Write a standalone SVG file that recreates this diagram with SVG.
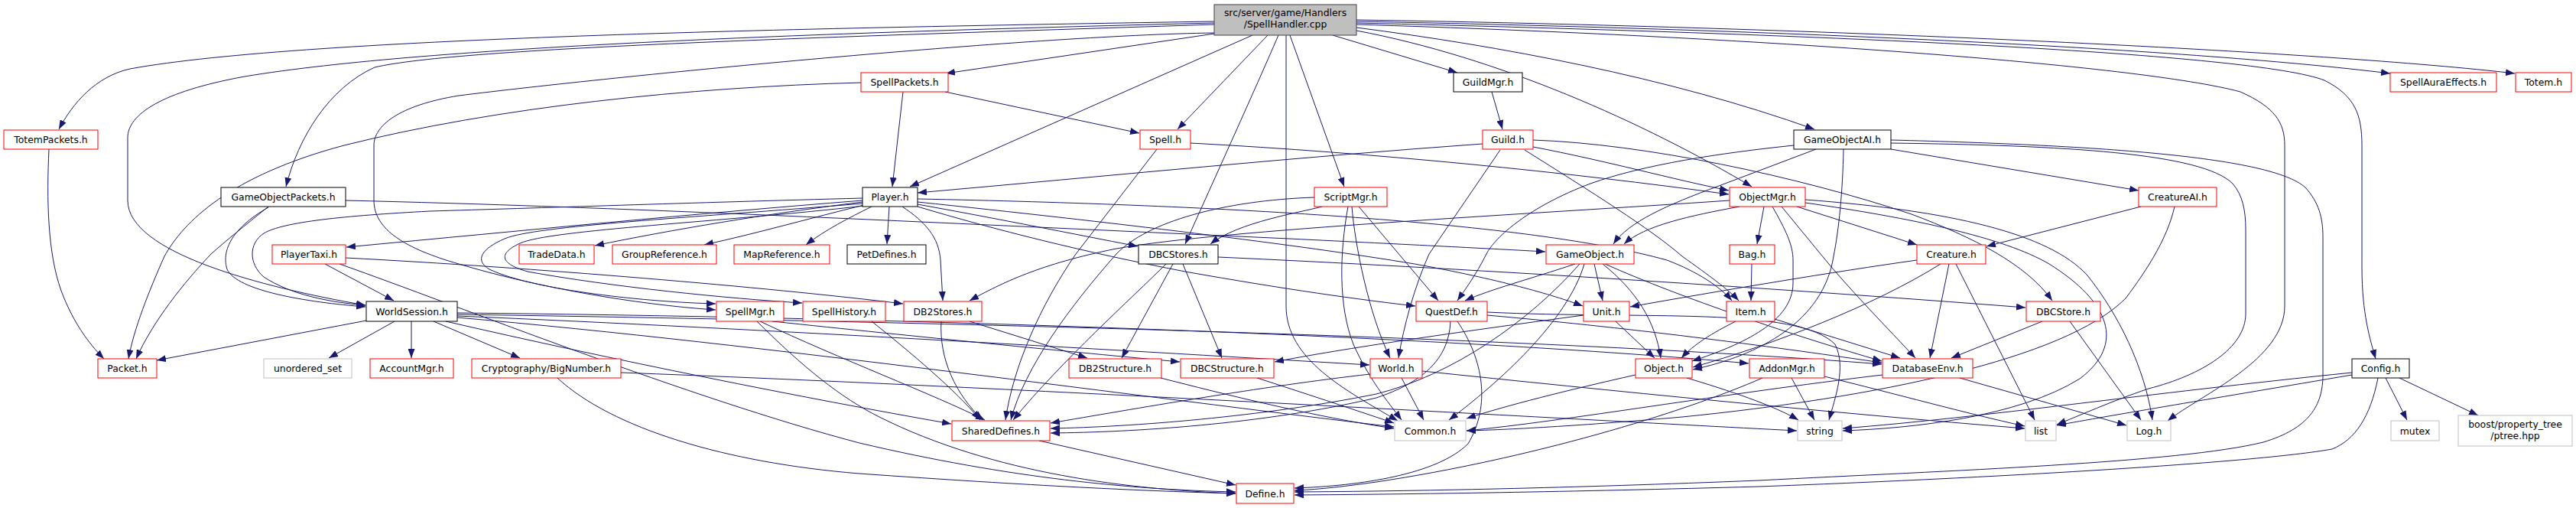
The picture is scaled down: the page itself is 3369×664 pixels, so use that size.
<svg xmlns="http://www.w3.org/2000/svg" width="3369" height="664" viewBox="0 0 3369 664">
<style>
.n rect{fill:#fff;stroke-width:1}
.r rect{stroke:#ff0000}
.b rect{stroke:#000}
.g rect{stroke:#bfbfbf}
.root rect{fill:#bfbfbf;stroke:#404040}
text{font-family:"DejaVu Sans","Liberation Sans",sans-serif;font-size:12.4px;text-anchor:middle;fill:#000}
#edges path{fill:none;stroke:#191970;stroke-width:1;marker-end:url(#a)}
</style>
<defs>
<marker id="a" viewBox="0 0 12 9" refX="12" refY="4.5" markerWidth="12" markerHeight="9" markerUnits="userSpaceOnUse" orient="auto"><path d="M0,0L12,4.5L0,9z" fill="#191970"/></marker>
</defs>
<rect width="3369" height="664" fill="#fff"/>
<g id="edges">
<path d="M1588,28 C1100,36 400,48 170,90 C125,100 95,135 77,169"/>
<path d="M1588,30 C1100,42 560,60 320,100 C210,120 167,150 167,180 L167,262 C167,330 340,375 478,399"/>
<path d="M1588,32 C1100,48 600,62 490,88 C430,115 390,180 374,244"/>
<path d="M1588,43 C1350,46 800,100 600,125 C520,138 489,165 489,190 L489,262 C489,300 530,325 600,345 C700,375 830,398 936,405"/>
<path d="M1588,44 L1237,96"/>
<path d="M1638,46 L1190,244"/>
<path d="M1658,46 L1540,169"/>
<path d="M1672,46 C1640,120 1590,230 1550,319"/>
<path d="M1682,46 L1682,400 C1682,470 1760,510 1828,550"/>
<path d="M1687,46 L1758,244"/>
<path d="M1743,46 L1906,95"/>
<path d="M1774,40 C1960,75 2150,160 2291,244"/>
<path d="M1774,36 C1960,60 2180,100 2373,169"/>
<path d="M1774,28 C2300,38 2850,62 3126,96"/>
<path d="M1774,26 C2400,36 3050,68 3289,96"/>
<path d="M1774,32 C2300,48 2800,85 2930,120 C2975,140 2988,160 2988,190 L2988,400 C2988,470 2880,515 2835,550"/>
<path d="M1774,30 C2400,45 2950,70 3040,105 C3080,125 3089,150 3089,190 L3089,350 C3089,410 3100,445 3107,469"/>
<path d="M64,195 C61,260 62,330 80,380 C95,420 115,448 136,469"/>
<path d="M1126,108 C900,114 650,140 450,190 C300,230 240,290 215,335 C195,380 175,430 168,469"/>
<path d="M1181,120 L1167,244"/>
<path d="M1236,120 L1490,174"/>
<path d="M1951,120 L1965,169"/>
<path d="M1513,195 L1407,332 C1360,400 1325,480 1315,549"/>
<path d="M1557,187 C1800,200 2050,225 2261,254"/>
<path d="M1939,188 C1700,205 1450,230 1200,252"/>
<path d="M2005,192 C2100,210 2190,235 2261,249"/>
<path d="M1962,196 L1869,332 C1850,375 1836,425 1829,468"/>
<path d="M1994,196 C2080,250 2160,300 2200,335 C2235,360 2260,378 2274,393"/>
<path d="M2005,183 C2150,188 2350,230 2500,280 C2580,310 2650,345 2684,393"/>
<path d="M2375,195 L2248,243 C2180,268 2130,290 2110,319"/>
<path d="M2346,190 C2250,200 2150,215 2080,240 C2000,270 1955,310 1944,332 C1930,360 1915,380 1906,393"/>
<path d="M2473,195 L2797,249"/>
<path d="M2473,187 C2700,190 2880,200 2920,240 C2933,255 2937,275 2937,300 L2937,410 C2937,455 2880,490 2810,508 C2760,525 2720,543 2690,555"/>
<path d="M2473,183 C2750,190 2970,205 3015,245 C3033,265 3038,285 3038,310 L3038,490 C3038,530 3020,560 2960,578 C2850,605 2550,615 2300,628 C2050,638 1850,642 1693,643"/>
<path d="M2411,195 C2410,250 2405,300 2398,335 C2385,420 2300,465 2214,483"/>
<path d="M351,270 C320,295 295,315 276,332 C240,370 200,420 178,469"/>
<path d="M351,271 C300,300 290,330 297,352 C310,380 400,395 478,401"/>
<path d="M452,262 C800,270 1200,290 1686,312 C1850,320 1950,325 2021,329"/>
<path d="M1128,262 C900,280 700,300 453,323"/>
<path d="M1128,259 C900,265 700,272 562,276 C450,282 370,290 345,305 C325,318 325,345 345,362 C380,385 430,395 478,399"/>
<path d="M1128,264 C1000,280 880,300 778,321"/>
<path d="M1130,268 C1060,285 990,305 921,320"/>
<path d="M1140,270 C1110,285 1080,300 1054,320"/>
<path d="M1163,270 L1160,319"/>
<path d="M1180,270 C1210,290 1228,310 1230,340 L1233,393"/>
<path d="M1200,267 C1300,285 1400,305 1488,322"/>
<path d="M1128,266 C900,285 700,295 660,312 C630,325 620,340 640,352 C700,380 850,395 936,397"/>
<path d="M1130,269 C950,290 720,300 680,318 C650,332 655,345 690,355 C800,375 950,390 1049,396"/>
<path d="M1200,270 C1300,300 1420,330 1550,355 C1680,378 1780,392 1851,400"/>
<path d="M1200,264 C1450,290 1700,320 1850,345 C1960,365 2030,385 2070,400"/>
<path d="M1200,260 C1600,268 2000,290 2180,340 C2220,355 2250,375 2265,393"/>
<path d="M1729,270 C1700,278 1620,290 1583,319"/>
<path d="M1719,258 C1600,262 1500,290 1460,332 C1400,400 1340,480 1322,549"/>
<path d="M1777,270 L1881,393"/>
<path d="M1768,270 C1772,320 1790,410 1818,468"/>
<path d="M1763,270 C1752,330 1750,400 1770,450 C1790,495 1815,525 1833,549"/>
<path d="M2275,270 C2210,282 2150,295 2124,319"/>
<path d="M2307,270 L2298,319"/>
<path d="M2350,270 L2507,320"/>
<path d="M2330,270 L2381,332 C2420,380 2470,430 2505,468"/>
<path d="M2318,270 C2335,300 2345,320 2345,340 L2345,370 C2345,420 2280,450 2213,472"/>
<path d="M2361,265 C2500,285 2620,310 2680,345 C2760,395 2780,450 2720,495 C2640,545 2500,560 2410,563"/>
<path d="M2361,261 C2550,275 2680,305 2730,360 C2770,410 2805,480 2815,549"/>
<path d="M2262,262 C2000,280 1600,300 1460,325 C1360,345 1310,370 1268,393"/>
<path d="M2800,270 L2598,322"/>
<path d="M2844,270 C2835,310 2810,350 2780,390 C2700,470 2450,520 2200,545 C2050,558 1960,562 1918,563"/>
<path d="M425,345 L515,393"/>
<path d="M452,337 C700,350 1000,375 1181,397"/>
<path d="M444,345 C600,400 900,520 1124,579 C1320,625 1480,640 1616,643"/>
<path d="M1534,345 L1467,468"/>
<path d="M1547,345 L1598,468"/>
<path d="M1525,345 C1480,390 1390,470 1325,549"/>
<path d="M1593,336 C1900,350 2300,375 2649,402"/>
<path d="M2060,345 C2000,365 1950,378 1916,393"/>
<path d="M2085,345 L2096,393"/>
<path d="M2096,345 C2140,380 2165,420 2172,468"/>
<path d="M2099,345 C2200,390 2350,440 2461,472"/>
<path d="M2072,345 C2050,420 1960,500 1895,549"/>
<path d="M2066,345 C2000,420 1900,490 1800,515 C1650,545 1480,558 1374,560"/>
<path d="M2291,345 L2290,393"/>
<path d="M2507,340 C2400,355 2250,380 2132,401"/>
<path d="M2549,345 L2524,468"/>
<path d="M2558,345 L2661,549"/>
<path d="M2538,345 C2450,400 2320,450 2214,480"/>
<path d="M479,419 L205,471"/>
<path d="M516,420 L430,468"/>
<path d="M538,420 L538,468"/>
<path d="M567,420 L680,468"/>
<path d="M583,420 C800,470 1050,520 1244,554"/>
<path d="M598,415 C1000,450 1500,520 1823,558"/>
<path d="M598,411 C1200,420 2000,440 2461,476"/>
<path d="M598,413 C1000,430 1500,460 1791,477"/>
<path d="M598,409 C1200,415 1900,440 2287,475"/>
<path d="M994,420 C1100,470 1220,515 1288,549"/>
<path d="M1010,420 C1200,440 1400,460 1543,473"/>
<path d="M990,420 C1050,480 1100,520 1150,545 C1300,620 1480,640 1616,645"/>
<path d="M1140,420 C1190,460 1250,510 1282,549"/>
<path d="M1231,420 C1228,470 1250,515 1285,549"/>
<path d="M1268,420 L1422,468"/>
<path d="M1897,420 C1895,470 1860,500 1800,520 C1650,555 1480,565 1374,566"/>
<path d="M1906,420 C1940,470 1950,530 1920,580 C1880,620 1780,635 1693,638"/>
<path d="M1945,412 C2150,430 2330,455 2461,474"/>
<path d="M1945,408 C2150,418 2350,400 2400,450 C2415,480 2400,520 2392,549"/>
<path d="M2113,420 L2164,468"/>
<path d="M2071,412 C1900,435 1760,455 1667,473"/>
<path d="M2321,417 L2485,468"/>
<path d="M2270,420 C2240,435 2215,450 2199,468"/>
<path d="M2671,420 L2552,468"/>
<path d="M2707,420 L2800,549"/>
<path d="M729,494 C800,560 950,605 1124,619 C1350,635 1500,642 1616,645"/>
<path d="M812,487 C1300,505 2000,545 2350,563"/>
<path d="M1518,494 C1600,515 1720,545 1823,560"/>
<path d="M1644,494 C1700,512 1770,535 1823,553"/>
<path d="M1833,494 L1862,549"/>
<path d="M1792,489 C1650,505 1480,535 1374,553"/>
<path d="M1860,485 C2100,510 2400,540 2648,560"/>
<path d="M2139,490 C2050,510 1970,530 1918,547"/>
<path d="M2206,494 C2260,510 2320,530 2352,549"/>
<path d="M2343,494 L2373,549"/>
<path d="M2386,492 C2480,515 2570,540 2648,557"/>
<path d="M2305,494 C2200,540 2000,600 1800,630 C1750,637 1720,640 1693,641"/>
<path d="M2462,490 C2250,515 2050,550 1918,563"/>
<path d="M2563,494 L2781,556"/>
<path d="M1359,576 L1616,634"/>
<path d="M3076,487 C2800,515 2600,545 2410,560"/>
<path d="M3076,490 C2900,520 2760,543 2690,556"/>
<path d="M3120,494 L3148,549"/>
<path d="M3138,494 L3241,543"/>
<path d="M3110,494 C3100,545 3080,575 3050,587 C2950,605 2600,625 2300,636 C2050,643 1850,646 1693,647"/>
</g>
<g id="n_root" class="n root"><rect x="1588" y="6" width="186" height="40"/><text x="1681" y="21">src/server/game/Handlers</text><text x="1681" y="36">/SpellHandler.cpp</text></g>
<g id="n_SpellPackets" class="n r"><rect x="1126" y="95" width="114" height="25"/><text x="1183" y="112">SpellPackets.h</text></g>
<g id="n_GuildMgr" class="n b"><rect x="1901" y="95" width="90" height="25"/><text x="1946" y="112">GuildMgr.h</text></g>
<g id="n_SpellAuraEffects" class="n r"><rect x="3126" y="95" width="139" height="25"/><text x="3195.5" y="112">SpellAuraEffects.h</text></g>
<g id="n_Totem" class="n r"><rect x="3290" y="95" width="73" height="25"/><text x="3326.5" y="112">Totem.h</text></g>
<g id="n_TotemPackets" class="n r"><rect x="5" y="170" width="123" height="25"/><text x="66.5" y="187">TotemPackets.h</text></g>
<g id="n_Spell" class="n r"><rect x="1491" y="170" width="66" height="25"/><text x="1524" y="187">Spell.h</text></g>
<g id="n_Guild" class="n r"><rect x="1939" y="170" width="66" height="25"/><text x="1972" y="187">Guild.h</text></g>
<g id="n_GameObjectAI" class="n b"><rect x="2346" y="170" width="127" height="25"/><text x="2409.5" y="187">GameObjectAI.h</text></g>
<g id="n_GameObjectPackets" class="n b"><rect x="289" y="245" width="163" height="25"/><text x="370.5" y="262">GameObjectPackets.h</text></g>
<g id="n_Player" class="n b"><rect x="1128" y="245" width="72" height="25"/><text x="1164" y="262">Player.h</text></g>
<g id="n_ScriptMgr" class="n r"><rect x="1719" y="245" width="95" height="25"/><text x="1766.5" y="262">ScriptMgr.h</text></g>
<g id="n_ObjectMgr" class="n r"><rect x="2262" y="245" width="99" height="25"/><text x="2311.5" y="262">ObjectMgr.h</text></g>
<g id="n_CreatureAI" class="n r"><rect x="2797" y="245" width="102" height="25"/><text x="2848" y="262">CreatureAI.h</text></g>
<g id="n_PlayerTaxi" class="n r"><rect x="356" y="320" width="96" height="25"/><text x="404" y="337">PlayerTaxi.h</text></g>
<g id="n_TradeData" class="n r"><rect x="679" y="320" width="98" height="25"/><text x="728" y="337">TradeData.h</text></g>
<g id="n_GroupReference" class="n r"><rect x="801" y="320" width="136" height="25"/><text x="869" y="337">GroupReference.h</text></g>
<g id="n_MapReference" class="n r"><rect x="960" y="320" width="125" height="25"/><text x="1022.5" y="337">MapReference.h</text></g>
<g id="n_PetDefines" class="n b"><rect x="1108" y="320" width="103" height="25"/><text x="1159.5" y="337">PetDefines.h</text></g>
<g id="n_DBCStores" class="n b"><rect x="1489" y="320" width="104" height="25"/><text x="1541" y="337">DBCStores.h</text></g>
<g id="n_GameObject" class="n r"><rect x="2022" y="320" width="115" height="25"/><text x="2079.5" y="337">GameObject.h</text></g>
<g id="n_Bag" class="n r"><rect x="2262" y="320" width="59" height="25"/><text x="2291.5" y="337">Bag.h</text></g>
<g id="n_Creature" class="n r"><rect x="2507" y="320" width="90" height="25"/><text x="2552" y="337">Creature.h</text></g>
<g id="n_WorldSession" class="n b"><rect x="479" y="394" width="119" height="26"/><text x="538.5" y="411.5">WorldSession.h</text></g>
<g id="n_SpellMgr" class="n r"><rect x="937" y="394" width="88" height="26"/><text x="981" y="411.5">SpellMgr.h</text></g>
<g id="n_SpellHistory" class="n r"><rect x="1050" y="394" width="108" height="26"/><text x="1104" y="411.5">SpellHistory.h</text></g>
<g id="n_DB2Stores" class="n r"><rect x="1182" y="394" width="102" height="26"/><text x="1233" y="411.5">DB2Stores.h</text></g>
<g id="n_QuestDef" class="n r"><rect x="1852" y="394" width="93" height="26"/><text x="1898.5" y="411.5">QuestDef.h</text></g>
<g id="n_Unit" class="n r"><rect x="2071" y="394" width="60" height="26"/><text x="2101" y="411.5">Unit.h</text></g>
<g id="n_Item" class="n r"><rect x="2258" y="394" width="63" height="26"/><text x="2289.5" y="411.5">Item.h</text></g>
<g id="n_DBCStore" class="n r"><rect x="2650" y="394" width="97" height="26"/><text x="2698.5" y="411.5">DBCStore.h</text></g>
<g id="n_Packet" class="n r"><rect x="128" y="469" width="77" height="25"/><text x="166.5" y="486">Packet.h</text></g>
<g id="n_unordered_set" class="n g"><rect x="345" y="469" width="115" height="25"/><text x="402.5" y="486">unordered_set</text></g>
<g id="n_AccountMgr" class="n r"><rect x="484" y="469" width="109" height="25"/><text x="538.5" y="486">AccountMgr.h</text></g>
<g id="n_BigNumber" class="n r"><rect x="617" y="469" width="195" height="25"/><text x="714.5" y="486">Cryptography/BigNumber.h</text></g>
<g id="n_DB2Structure" class="n r"><rect x="1398" y="469" width="121" height="25"/><text x="1458.5" y="486">DB2Structure.h</text></g>
<g id="n_DBCStructure" class="n r"><rect x="1544" y="469" width="122" height="25"/><text x="1605" y="486">DBCStructure.h</text></g>
<g id="n_World" class="n r"><rect x="1792" y="469" width="68" height="25"/><text x="1826" y="486">World.h</text></g>
<g id="n_Object" class="n r"><rect x="2139" y="469" width="74" height="25"/><text x="2176" y="486">Object.h</text></g>
<g id="n_AddonMgr" class="n r"><rect x="2288" y="469" width="98" height="25"/><text x="2337" y="486">AddonMgr.h</text></g>
<g id="n_DatabaseEnv" class="n r"><rect x="2462" y="469" width="118" height="25"/><text x="2521" y="486">DatabaseEnv.h</text></g>
<g id="n_Config" class="n b"><rect x="3076" y="469" width="75" height="25"/><text x="3113.5" y="486">Config.h</text></g>
<g id="n_SharedDefines" class="n r"><rect x="1245" y="550" width="128" height="26"/><text x="1309" y="567.5">SharedDefines.h</text></g>
<g id="n_Common" class="n g"><rect x="1824" y="550" width="93" height="26"/><text x="1870.5" y="567.5">Common.h</text></g>
<g id="n_string" class="n g"><rect x="2351" y="550" width="58" height="26"/><text x="2380" y="567.5">string</text></g>
<g id="n_list" class="n g"><rect x="2649" y="550" width="40" height="26"/><text x="2669" y="567.5">list</text></g>
<g id="n_Log" class="n g"><rect x="2782" y="550" width="57" height="26"/><text x="2810.5" y="567.5">Log.h</text></g>
<g id="n_mutex" class="n g"><rect x="3127" y="550" width="63" height="26"/><text x="3158.5" y="567.5">mutex</text></g>
<g id="n_boost" class="n g"><rect x="3215" y="543" width="149" height="40"/><text x="3289.5" y="559">boost/property_tree</text><text x="3289.5" y="574">/ptree.hpp</text></g>
<g id="n_Define" class="n r"><rect x="1617" y="632" width="75" height="26"/><text x="1654.5" y="649.5">Define.h</text></g>
</svg>
